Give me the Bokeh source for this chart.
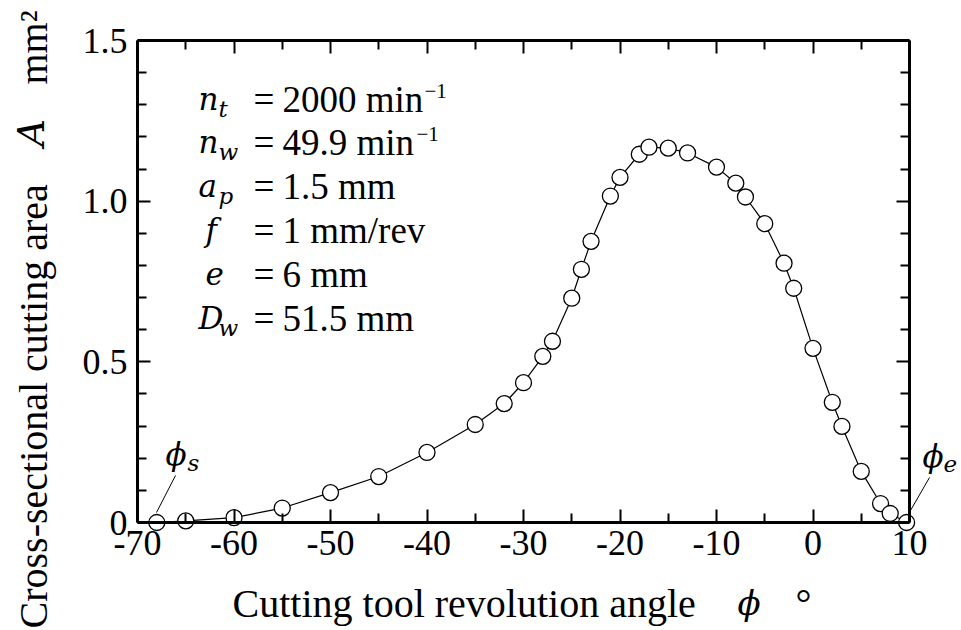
import math
from bokeh.plotting import figure
from bokeh.models import LinearAxis, FixedTicker, Label, Arrow, Range1d, CustomJSTickFormatter
from bokeh.embed import file_html
from bokeh.resources import INLINE

# ---------------- data ----------------
phi = [-68, -65, -60, -55, -50, -45, -40, -35, -32, -30, -28, -27, -25, -24, -23,
       -21, -20, -18, -17, -15, -13, -10, -8, -7, -5, -3, -2, 0, 2, 3, 5, 7, 8, 9.7]
area = [0.0, 0.005, 0.015, 0.045, 0.093, 0.143, 0.218, 0.305, 0.37, 0.435, 0.517, 0.564,
        0.698, 0.788, 0.875, 1.016, 1.074, 1.146, 1.168, 1.165, 1.15, 1.106, 1.056, 1.013,
        0.93, 0.807, 0.729, 0.542, 0.374, 0.299, 0.159, 0.059, 0.028, 0.0]

x_ticks = [-70, -60, -50, -40, -30, -20, -10, 0, 10]
x_minor = [-65, -55, -45, -35, -25, -15, -5, 5]
x_tick_labels = ["-70", "-60", "-50", "-40", "-30", "-20", "-10", "0", "10"]
y_ticks = [0, 0.5, 1.0, 1.5]
y_minor = [0.1, 0.2, 0.3, 0.4, 0.6, 0.7, 0.8, 0.9, 1.1, 1.2, 1.3, 1.4]
y_tick_labels = ["0", "0.5", "1.0", "1.5"]

X0, X1 = -70, 10
Y0, Y1 = 0, 1.5

# ---------------- layout ----------------
W, H = 961, 630
BOX_L, BOX_R, BOX_T, BOX_B = 137, 909, 40, 522
sx = (BOX_R - BOX_L) / (X1 - X0)
sy = (BOX_B - BOX_T) / (Y1 - Y0)


def dx(px):
    return X0 + (px - BOX_L) / sx


def dy(py):
    return Y0 + (BOX_B - py) / sy


p = figure(width=W, height=H, output_backend="svg", toolbar_location=None,
           x_range=Range1d(dx(0), dx(W)), y_range=Range1d(dy(H), dy(0)),
           x_axis_location=None, y_axis_location=None,
           min_border_left=0, min_border_right=0, min_border_top=0, min_border_bottom=0)
p.outline_line_color = None
p.xgrid.visible = False
p.ygrid.visible = False
p.background_fill_color = "white"
p.border_fill_color = "white"

SERIF = "Liberation Serif"
MATH = "DejaVu Serif"

xt = FixedTicker(ticks=x_ticks, minor_ticks=x_minor)
yt = FixedTicker(ticks=y_ticks, minor_ticks=y_minor)
xfmt = CustomJSTickFormatter(args=dict(labels=x_tick_labels), code="return labels[index];")
yfmt = CustomJSTickFormatter(args=dict(labels=y_tick_labels), code="return labels[index];")


def style(ax, show_labels):
    ax.axis_line_width = 3
    ax.axis_line_color = "black"
    ax.major_tick_in = 13
    ax.major_tick_out = 0
    ax.minor_tick_in = 9
    ax.minor_tick_out = 0
    ax.major_tick_line_width = 2
    ax.minor_tick_line_width = 2
    ax.major_tick_line_color = "black"
    ax.minor_tick_line_color = "black"
    if show_labels:
        ax.major_label_text_font = SERIF
        ax.major_label_text_font_size = "36px"
        ax.major_label_text_color = "black"
    else:
        ax.major_label_text_font_size = "0px"
        ax.major_label_text_alpha = 0


bottom = LinearAxis(ticker=xt, formatter=xfmt, fixed_location=Y0, bounds=(X0, X1))
style(bottom, True)
bottom.major_label_standoff = 8
top = LinearAxis(ticker=xt, fixed_location=Y1, bounds=(X0, X1))
style(top, False)
left = LinearAxis(ticker=yt, formatter=yfmt, fixed_location=X0, bounds=(Y0, Y1))
style(left, True)
left.major_label_standoff = 10
right = LinearAxis(ticker=yt, fixed_location=X1, bounds=(Y0, Y1))
style(right, False)
p.add_layout(bottom, "below")
p.add_layout(top, "above")
p.add_layout(left, "left")
p.add_layout(right, "right")

# ---------------- data marks ----------------
p.line(phi, area, line_color="black", line_width=1.2)
p.scatter(phi, area, marker="circle", size=16, fill_color="white",
          line_color="black", line_width=1.3)


# ---------------- texts ----------------
# empirical correction: label's alphabetic anchor renders below the requested baseline
SHIFT = {SERIF: 0.29, MATH: 0.38}


def lab(px, py, text, size, font=SERIF, style="normal", angle=0):
    off = SHIFT[font] * size
    if angle:
        px = px - off
    else:
        py = py - off
    p.add_layout(Label(x=dx(px), y=dy(py), text=text, text_font=font,
                       text_font_style=style, text_font_size=f"{size}px",
                       text_color="black", text_align="left",
                       text_baseline="alphabetic", angle=angle))


# parameter block
base = [110, 153, 197, 241, 285, 329]
syms = [("n", "t"), ("n", "w"), ("a", "p"), ("f", ""), ("e", ""), ("D", "w")]
sym_x = [198, 198, 198, 205, 205, 198]
vals = ["2000 min", "49.9 min", "1.5 mm", "1 mm/rev", "6 mm", "51.5 mm"]
for (main, sub), bx, b, v in zip(syms, sym_x, base, vals):
    lab(bx, b, main, 31, MATH, "italic")
    if sub:
        lab(218, b + 7, sub, 23, MATH, "italic")
    lab(253, b, "=", 37)
    lab(282, b, v, 37)
lab(424, base[0] - 13, "\u22121", 21)
lab(416, base[1] - 13, "\u22121", 21)

# phi_s / phi_e markers
lab(165, 465, "\u03d5", 31, MATH, "italic")
lab(187, 471, "s", 23, MATH, "italic")
lab(922, 467, "\u03d5", 31, MATH, "italic")
lab(943, 472, "e", 23, MATH, "italic")
p.add_layout(Arrow(end=None, x_start=dx(156), y_start=dy(512), x_end=dx(175), y_end=dy(475),
                   line_color="black", line_width=1))
p.add_layout(Arrow(end=None, x_start=dx(910), y_start=dy(510), x_end=dx(929), y_end=dy(477),
                   line_color="black", line_width=1))

# axis titles
lab(232, 615, "Cutting tool revolution angle", 40)
lab(737, 615, "\u03d5", 34, MATH, "italic")
lab(795, 615, "\u00b0", 40)

lab(45, 628, "Cross-sectional cutting area", 40, angle=math.pi / 2)
lab(45, 146, "A", 38, MATH, "italic", angle=math.pi / 2)
lab(45, 84, "mm\u00b2", 40, angle=math.pi / 2)

open("out.html", "w").write(file_html(p, INLINE))
